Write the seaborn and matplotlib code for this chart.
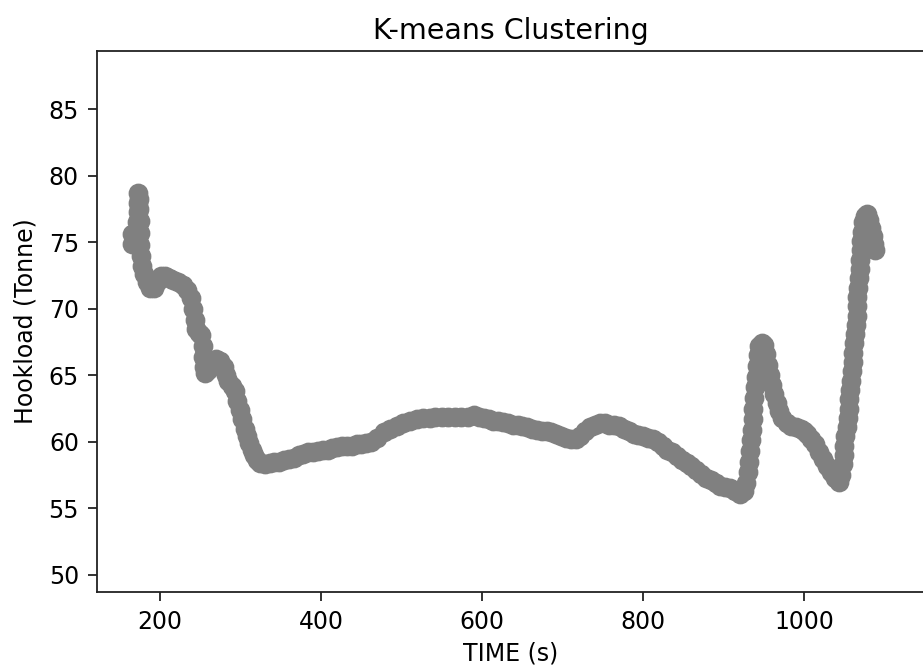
import matplotlib
matplotlib.use("Agg")
import matplotlib.pyplot as plt
import seaborn as sns
import pandas as pd

# Data (TIME in s, Hookload in tonnes), ten points per row
time_s = [
    165, 165, 169, 171, 172, 172, 173, 174, 174, 175,
    175, 175, 176, 177, 180, 184, 188, 192, 196, 201,
    206, 211, 216, 222, 228, 234, 238, 241, 243, 245,
    248, 251, 253, 253, 254, 256, 260, 265, 270, 275,
    279, 282, 285, 289, 293, 296, 299, 302, 305, 308,
    311, 314, 317, 320, 324, 330, 336, 342, 348, 354,
    360, 366, 372, 378, 384, 390, 396, 402, 408, 414,
    420, 426, 432, 438, 444, 450, 456, 462, 470, 478,
    486, 494, 502, 510, 519, 527, 535, 542, 550, 558,
    566, 574, 582, 590, 596, 602, 608, 614, 620, 626,
    632, 638, 644, 650, 656, 662, 668, 674, 680, 686,
    692, 698, 704, 710, 716, 722, 728, 734, 740, 746,
    752, 758, 764, 770, 776, 782, 788, 794, 800, 806,
    812, 818, 824, 830, 836, 842, 848, 854, 860, 866,
    872, 878, 884, 890, 896, 902, 908, 914, 920, 925,
    928, 930, 932, 933, 934, 935, 936, 937, 938, 939,
    940, 941, 942, 944, 947, 950, 953, 955, 957, 960,
    963, 966, 969, 973, 978, 984, 990, 996, 1000, 1004,
    1008, 1013, 1018, 1023, 1028, 1033, 1038, 1043, 1046, 1048,
    1049, 1050, 1051, 1053, 1054, 1055, 1056, 1057, 1058, 1059,
    1060, 1061, 1062, 1063, 1064, 1065, 1066, 1066, 1067, 1068,
    1069, 1069, 1070, 1071, 1072, 1073, 1075, 1078, 1081, 1083,
    1085, 1087, 1088,
]
hookload_t = [
    75.6, 74.9, 75.5, 76.5, 77.3, 78.0, 78.7, 78.3, 77.5, 76.6,
    75.7, 74.8, 74.0, 73.2, 72.6, 72.0, 71.6, 71.6, 72.0, 72.5,
    72.5, 72.3, 72.2, 72.0, 71.8, 71.4, 70.8, 70.0, 69.2, 68.5,
    68.2, 68.0, 67.2, 66.4, 65.6, 65.2, 65.4, 65.9, 66.2, 66.1,
    65.6, 65.0, 64.6, 64.2, 63.8, 63.1, 62.4, 61.7, 61.0, 60.4,
    59.9, 59.4, 59.0, 58.6, 58.4, 58.3, 58.4, 58.5, 58.5, 58.6,
    58.7, 58.8, 59.0, 59.1, 59.2, 59.2, 59.3, 59.4, 59.4, 59.5,
    59.6, 59.7, 59.7, 59.7, 59.8, 59.8, 59.9, 60.0, 60.3, 60.7,
    61.0, 61.2, 61.4, 61.6, 61.7, 61.8, 61.8, 61.9, 61.9, 61.9,
    61.9, 61.9, 61.9, 62.0, 61.9, 61.8, 61.7, 61.6, 61.6, 61.5,
    61.4, 61.3, 61.3, 61.2, 61.1, 61.0, 60.9, 60.8, 60.8, 60.7,
    60.6, 60.4, 60.3, 60.2, 60.2, 60.4, 60.8, 61.1, 61.3, 61.4,
    61.4, 61.3, 61.3, 61.2, 61.0, 60.8, 60.6, 60.5, 60.4, 60.3,
    60.2, 60.0, 59.7, 59.4, 59.2, 58.9, 58.6, 58.4, 58.2, 57.9,
    57.6, 57.3, 57.1, 56.9, 56.7, 56.6, 56.5, 56.3, 56.1, 56.3,
    56.9, 57.7, 58.5, 59.3, 60.1, 60.9, 61.7, 62.5, 63.3, 64.1,
    64.9, 65.7, 66.5, 67.2, 67.4, 67.3, 66.6, 65.8, 65.0, 64.3,
    63.6, 62.9, 62.3, 61.8, 61.4, 61.2, 61.1, 61.0, 60.8, 60.6,
    60.2, 59.8, 59.2, 58.7, 58.2, 57.7, 57.3, 57.0, 57.5, 58.3,
    59.0, 59.7, 60.4, 61.1, 61.8, 62.5, 63.2, 63.9, 64.6, 65.3,
    66.0, 66.7, 67.4, 68.1, 68.8, 69.5, 70.2, 70.9, 71.6, 72.3,
    73.0, 73.7, 74.4, 75.1, 75.8, 76.5, 77.0, 77.1, 76.7, 76.1,
    75.5, 74.9, 74.4,
]

x_ticks = [200, 400, 600, 800, 1000]
y_ticks = [50, 55, 60, 65, 70, 75, 80, 85]

df = pd.DataFrame({"TIME (s)": time_s, "Hookload (Tonne)": hookload_t})

fig = plt.figure(figsize=(9.23, 6.71), dpi=100)
ax = fig.add_axes([97 / 923, 1 - 592 / 671, (925 - 97) / 923, (592 - 51) / 671])

sns.scatterplot(data=df, x="TIME (s)", y="Hookload (Tonne)", ax=ax,
                color="#808080", edgecolor="#808080", linewidth=1.2, s=170, legend=False)

ax.set_xlim(121.7, 1150)
ax.set_ylim(48.7, 89.4)
ax.set_xticks(x_ticks)
ax.set_yticks(y_ticks)
ax.tick_params(axis="both", labelsize=17, length=6.5, width=1.3, pad=6.5, color="#222222")
for sp in ax.spines.values():
    sp.set_linewidth(1.3)
    sp.set_color("#222222")
ax.set_xlabel("TIME (s)", fontsize=17, labelpad=5)
ax.set_ylabel("Hookload (Tonne)", fontsize=17, labelpad=8)
ax.set_title("K-means Clustering", fontsize=20.5, pad=9)

fig.savefig("out.png", dpi=100)
